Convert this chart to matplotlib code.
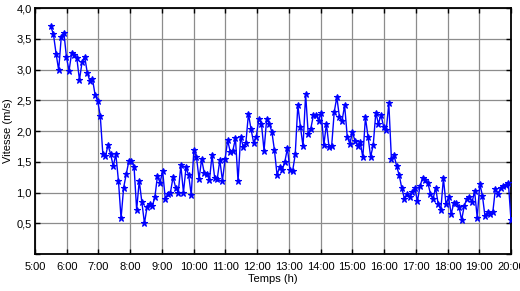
import matplotlib.pyplot as plt
import numpy as np
from matplotlib.ticker import FuncFormatter, MultipleLocator

plt.rcParams['font.family'] = ['Liberation Sans Narrow', 'Liberation Sans', 'DejaVu Sans']

# wind speed (m/s), sampled regularly from 5:30 to 20:00
speed = [3.70, 3.57, 3.26, 2.99, 3.53, 3.60, 3.20, 2.98, 3.27, 3.24,
         3.18, 2.83, 3.12, 3.21, 2.95, 2.81, 2.85, 2.59, 2.49, 2.25,
         1.62, 1.59, 1.77, 1.62, 1.43, 1.62, 1.19, 0.58, 1.08, 1.30,
         1.51, 1.51, 1.42, 0.72, 1.19, 0.84, 0.50, 0.76, 0.82, 0.78,
         0.92, 1.27, 1.16, 1.35, 0.90, 0.97, 1.00, 1.25, 1.08, 1.00,
         1.44, 1.00, 1.41, 1.28, 0.96, 1.69, 1.58, 1.22, 1.54, 1.32,
         1.30, 1.20, 1.61, 1.24, 1.22, 1.53, 1.19, 1.54, 1.85, 1.66,
         1.68, 1.88, 1.18, 1.91, 1.74, 1.80, 2.28, 2.03, 1.81, 1.90,
         2.20, 2.12, 1.68, 2.19, 2.12, 1.99, 1.69, 1.29, 1.41, 1.37,
         1.50, 1.72, 1.36, 1.35, 1.62, 2.42, 2.07, 1.75, 2.60, 1.95,
         2.04, 2.26, 2.26, 2.17, 2.30, 1.77, 2.12, 1.74, 1.75, 2.31,
         2.55, 2.23, 2.16, 2.42, 1.91, 1.79, 1.98, 1.84, 1.76, 1.82,
         1.57, 2.22, 1.91, 1.58, 1.77, 2.30, 2.12, 2.26, 2.07, 2.01,
         2.45, 1.54, 1.61, 1.43, 1.28, 1.07, 0.90, 0.98, 0.93, 1.01,
         1.07, 0.86, 1.10, 1.24, 1.20, 1.16, 0.98, 0.89, 1.08, 0.81,
         0.72, 1.23, 0.81, 0.92, 0.65, 0.83, 0.83, 0.77, 0.55, 0.78,
         0.90, 0.93, 0.84, 1.02, 0.59, 1.14, 0.95, 0.61, 0.68, 0.65,
         0.68, 1.06, 0.97, 1.07, 1.10, 1.13, 1.15, 0.55]
t_start, t_end = 5.5, 20.0
hours = np.linspace(t_start, t_end, len(speed))

fig = plt.figure(figsize=(5.2, 2.91), dpi=100)
ax = fig.add_axes([0.0673, 0.1271, 0.9154, 0.8454])

ax.plot(hours, speed, color='#0000ff', lw=1.0, marker='*', ms=4.5,
        mew=0.8, zorder=3)

ax.set_xlim(5, 20)
ax.set_ylim(0, 4)
ax.xaxis.set_major_locator(MultipleLocator(1))
ax.yaxis.set_major_locator(MultipleLocator(0.5))
ax.xaxis.set_major_formatter(FuncFormatter(lambda v, p: '%d:00' % round(v)))
ax.yaxis.set_major_formatter(
    FuncFormatter(lambda v, p: '' if v < 0.25 else ('%.1f' % v).replace('.', ',')))

ax.grid(True, color='0.55', lw=0.9)
ax.tick_params(direction='in', top=True, right=True, length=3.5, width=1,
               labelsize=8)
ax.tick_params(axis='x', pad=6)
ax.tick_params(axis='y', pad=2.5)
for s in ax.spines.values():
    s.set_linewidth(1.3)

ax.set_xlabel('Temps (h)', fontsize=8, labelpad=1)
ax.set_ylabel('Vitesse (m/s)', fontsize=8, labelpad=2)

fig.savefig('out.png', dpi=100)
